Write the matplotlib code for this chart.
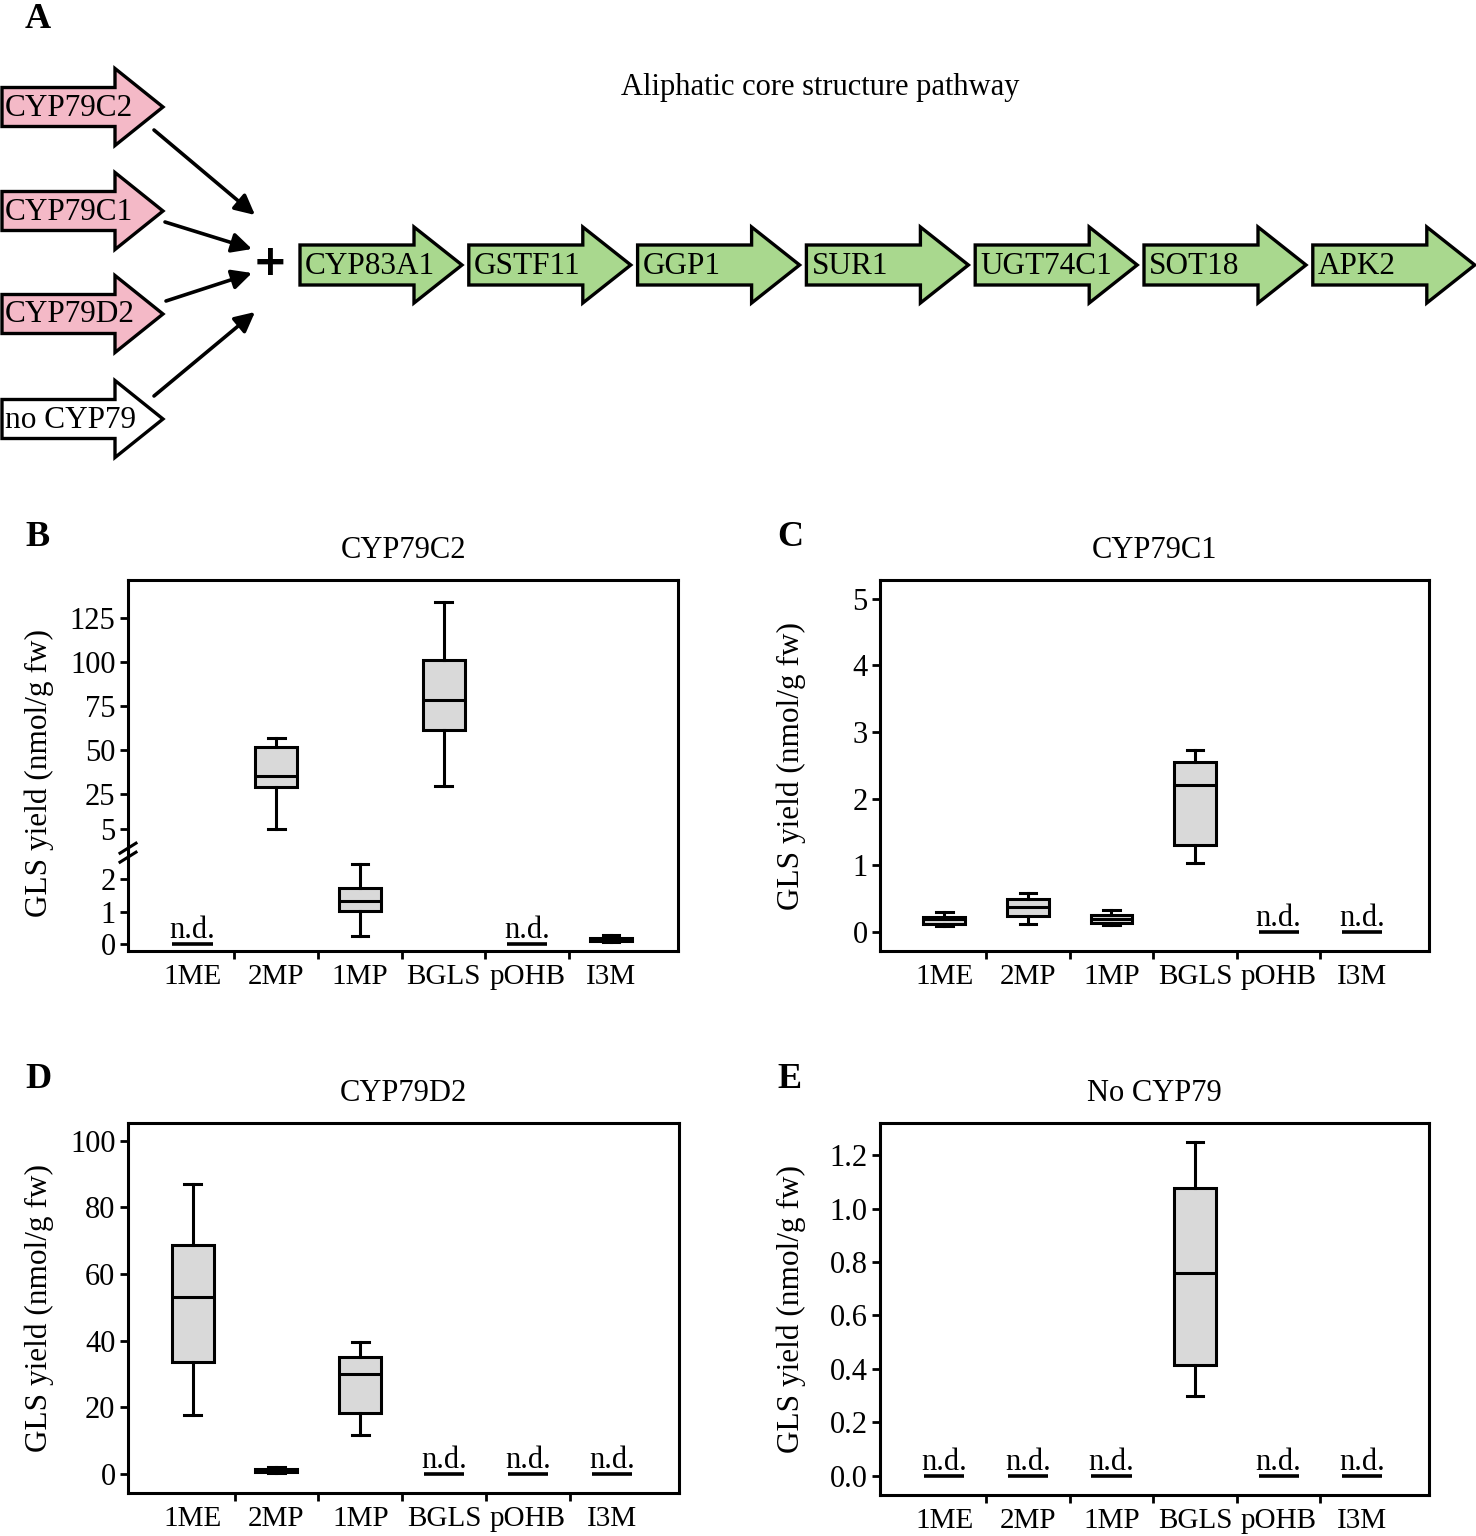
import matplotlib.pyplot as plt
import numpy as np
from matplotlib.patches import Polygon

plt.rcParams["font.family"] = ["Liberation Serif", "DejaVu Serif"]

W, H = 1476, 1536

categories = ["1ME", "2MP", "1MP", "BGLS", "pOHB", "I3M"]

# box statistics per panel (None = n.d.)
c2_low = [None, 5.0, 0.25, 29.8, None, 0.06]
c2_q1 = [None, 28.7, 1.02, 61.5, None, 0.10]
c2_med = [None, 35.3, 1.34, 78.6, None, 0.15]
c2_q3 = [None, 51.6, 1.72, 101.3, None, 0.20]
c2_high = [None, 56.8, 2.46, 134.1, None, 0.28]

c1_low = [0.09, 0.115, 0.10, 1.03, None, None]
c1_q1 = [0.125, 0.24, 0.14, 1.30, None, None]
c1_med = [0.19, 0.38, 0.20, 2.20, None, None]
c1_q3 = [0.23, 0.50, 0.25, 2.545, None, None]
c1_high = [0.30, 0.59, 0.33, 2.73, None, None]

d2_low = [17.8, 0.2, 11.6, None, None, None]
d2_q1 = [33.7, 0.5, 18.2, None, None, None]
d2_med = [53.1, 1.0, 29.9, None, None, None]
d2_q3 = [68.7, 1.5, 35.1, None, None, None]
d2_high = [87.0, 2.1, 39.6, None, None, None]

no_low = [None, None, None, 0.30, None, None]
no_q1 = [None, None, None, 0.415, None, None]
no_med = [None, None, None, 0.76, None, None]
no_q3 = [None, None, None, 1.075, None, None]
no_high = [None, None, None, 1.25, None, None]

# pathway diagram
cyp79_genes = ["CYP79C2", "CYP79C1", "CYP79D2", "no CYP79"]
cyp79_colors = ["#f4b9c7", "#f4b9c7", "#f4b9c7", "white"]
core_genes = ["CYP83A1", "GSTF11", "GGP1", "SUR1", "UGT74C1", "SOT18", "APK2"]

fig = plt.figure(figsize=(W / 100, H / 100), dpi=100)


def px_axes(l, t, r, b):
    return fig.add_axes([l / W, 1 - b / H, (r - l) / W, (b - t) / H])


def arrow_shape(x0, yc, length, body, hb, hh):
    return [(x0, yc - hb), (x0 + body, yc - hb), (x0 + body, yc - hh),
            (x0 + length, yc), (x0 + body, yc + hh), (x0 + body, yc + hb),
            (x0, yc + hb)]


# ---- panel A ----
axa = px_axes(0, 0, W, 470)
axa.set_xlim(0, W)
axa.set_ylim(470, 0)
axa.axis("off")
axa.text(38, 19, "A", fontsize=26, fontweight="bold", ha="center", va="center")
axa.text(820, 87, "Aliphatic core structure pathway", fontsize=22, ha="center", va="center")

pink_y = [107, 211, 314, 419]
for name, col, yc in zip(cyp79_genes, cyp79_colors, pink_y):
    axa.add_patch(Polygon(arrow_shape(2, yc, 161, 113, 19.5, 38.5), closed=True,
                          facecolor=col, edgecolor="black", lw=2.4))
    axa.text(5, yc + 1, name, fontsize=22.5, ha="left", va="center")

arrow_starts = [(154, 130), (165, 222), (166, 301), (154, 396)]
arrow_ends = [(255, 215), (252, 249), (252, 273), (255, 312)]
for s, e in zip(arrow_starts, arrow_ends):
    axa.annotate("", xy=e, xytext=s,
                 arrowprops=dict(arrowstyle="-|>", color="black", lw=2.6,
                                 mutation_scale=30, shrinkA=0, shrinkB=0))
axa.text(270, 263, "+", fontsize=30, fontweight="bold", ha="center", va="center",
         family="DejaVu Sans")

for i, name in enumerate(core_genes):
    x0 = 300 + i * 168.8
    axa.add_patch(Polygon(arrow_shape(x0, 265, 162, 114, 20, 38), closed=True,
                          facecolor="#a9d88e", edgecolor="black", lw=2.4))
    axa.text(x0 + 5, 266, name, fontsize=22.5, ha="left", va="center")


# ---- box plot panels ----
p5, slope = 3.52, 0.05355
brk = (p5 - 5 * slope) / (1 - slope)


def fwd(y):
    y = np.asarray(y, dtype=float)
    return np.where(y <= brk, y, p5 + (y - 5) * slope)


def inv(p):
    p = np.asarray(p, dtype=float)
    return np.where(p <= brk, p, 5 + (p - p5) / slope)


panels = [
    ("B", "CYP79C2", (128, 580, 678, 951), (c2_low, c2_q1, c2_med, c2_q3, c2_high),
     (-0.2, 146.9), [0, 1, 2, 5, 25, 50, 75, 100, 125], "%g", True),
    ("C", "CYP79C1", (880, 580, 1429, 951), (c1_low, c1_q1, c1_med, c1_q3, c1_high),
     (-0.285, 5.28), [0, 1, 2, 3, 4, 5], "%g", False),
    ("D", "CYP79D2", (128, 1123, 679, 1493), (d2_low, d2_q1, d2_med, d2_q3, d2_high),
     (-5.7, 105.3), [0, 20, 40, 60, 80, 100], "%g", False),
    ("E", "No CYP79", (880, 1123, 1429, 1495), (no_low, no_q1, no_med, no_q3, no_high),
     (-0.072, 1.32), [0.0, 0.2, 0.4, 0.6, 0.8, 1.0, 1.2], "%.1f", False),
]

lw = 2.2
for letter, title, rect, stats, ylim, yticks, fmt, broken in panels:
    ax = px_axes(*rect)
    if broken:
        ax.set_yscale("function", functions=(fwd, inv))
    low, q1, med, q3, high = stats
    for i in range(len(categories)):
        if med[i] is None:
            ax.plot([i - 0.24, i + 0.24], [0, 0], color="black", lw=2.6,
                    solid_capstyle="butt")
            ax.annotate("n.d.", (i, 0), xytext=(0, 4.5), textcoords="offset points",
                        ha="center", va="baseline", fontsize=22)
        else:
            st = [dict(whislo=low[i], q1=q1[i], med=med[i], q3=q3[i], whishi=high[i])]
            ax.bxp(st, positions=[i], widths=0.5, capwidths=0.2, showfliers=False,
                   patch_artist=True,
                   boxprops=dict(facecolor="#d9d9d9", edgecolor="black", linewidth=lw),
                   medianprops=dict(color="black", linewidth=lw),
                   whiskerprops=dict(color="black", linewidth=lw),
                   capprops=dict(color="black", linewidth=lw))
    ax.set_xlim(-0.77, 5.8)
    ax.set_ylim(*ylim)
    ax.set_xticks(range(len(categories)))
    ax.set_xticklabels(categories, fontsize=21)
    ax.set_xticks(np.arange(0.5, len(categories) - 1, 1.0), minor=True)
    ax.tick_params(axis="x", which="major", length=0, pad=9)
    ax.tick_params(axis="x", which="minor", length=6, width=2.0, direction="out")
    ax.set_yticks(yticks)
    ax.set_yticklabels([fmt % v for v in yticks], fontsize=22)
    ax.yaxis.set_minor_locator(plt.NullLocator())
    ax.tick_params(axis="y", length=6, width=2.0, direction="out", pad=3)
    for sp in ax.spines.values():
        sp.set_linewidth(2.2)
    ax.set_ylabel("GLS yield (nmol/g fw)", fontsize=22.5)
    ax.yaxis.set_label_coords(-0.135, 0.48 if broken else 0.5)
    ax.set_title(title, fontsize=22, pad=16)
    l, t, r, b = rect
    fig.text((l - 90) / W, 1 - (t - 43) / H, letter, fontsize=26, fontweight="bold",
             ha="center", va="center")
    if broken:
        # axis break marks on the left spine
        yb = (2.8 - ylim[0]) / (fwd(ylim[1]) - ylim[0])
        w = r - l
        hgt = b - t
        for dy in (-4.5, 4.5):
            ax.plot([-8 / w, 8 / w], [yb + (dy - 5) / hgt, yb + (dy + 5) / hgt],
                    transform=ax.transAxes, color="black", lw=2.2, clip_on=False)

fig.savefig("out.png", dpi=100)
